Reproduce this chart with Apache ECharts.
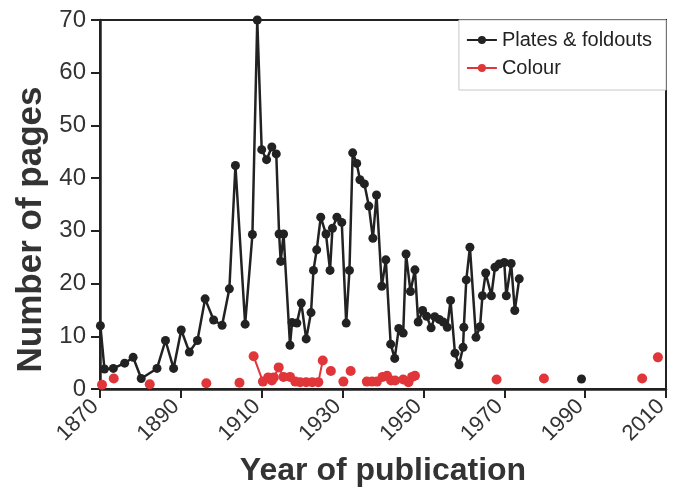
<!DOCTYPE html>
<html>
<head>
<meta charset="utf-8">
<script src="https://cdn.jsdelivr.net/npm/echarts@6/dist/echarts.min.js"></script>
<style>
  html, body { margin: 0; padding: 0; background: #fff; }
  #chart { width: 673px; height: 497px; }
</style>
</head>
<body>
<div id="chart"></div>
<script>
// Values. null = gap in the line.
const plateYears = [
  1870.1, 1871.1, 1873.3, 1876.1, 1878.2, 1880.2, 1884.1, 1886.2, 1888.2,
  1890.1, 1892.1, 1894.1, 1896.0, 1898.1, 1900.2, 1902.0, 1903.5, 1905.9, 1907.7, 1908.9,
  1910.0, 1911.2, 1912.5, 1913.6, 1914.3, 1914.7, 1915.4, 1917.0, 1917.5, 1918.7, 1919.8,
  1921.0, 1922.2, 1922.8, 1923.6, 1924.6, 1925.9, 1926.9, 1927.5, 1928.6, 1929.8,
  1930.9, 1931.7, 1932.5, 1933.5, 1934.3, 1935.4, 1936.5, 1937.5, 1938.4, 1939.7,
  1940.7, 1941.9, 1942.9, 1943.9, 1945.0, 1945.7, 1946.8, 1947.9, 1948.7, 1949.8,
  1950.8, 1951.9, 1952.8, 1953.9, 1954.9, 1955.9, 1956.7, 1957.8, 1958.8, 1959.8,
  1960.0, 1960.6, 1961.5, 1963.0, 1964.0, 1964.6, 1965.4, 1966.8, 1967.7, 1968.7,
  1970.0, 1970.5, 1971.7, 1972.6, 1973.7,
  1981.0, 1989.1
];
const plateValues = [
  12, 3.8, 3.9, 4.9, 6, 2, 3.9, 9.2, 3.9,
  11.2, 7, 9.2, 17.1, 13.1, 12.1, 19, 42.4, 12.3, 29.3, 70,
  45.4, 43.5, 45.9, 44.6, 29.4, 24.2, 29.4, 8.3, 12.6, 12.5, 16.3,
  9.5, 14.5, 22.5, 26.4, 32.6, 29.4, 22.5, 30.5, 32.6, 31.6,
  12.5, 22.5, 44.8, 42.8, 39.7, 38.9, 34.7, 28.6, 36.8, 19.5,
  24.5, 8.5, 5.8, 11.5, 10.6, 25.6, 18.5, 22.6, 12.7, 14.9,
  13.8, 11.6, 13.7, 13.2, 12.7, 11.7, 16.8, 6.8, 4.6, 7.9,
  11.7, 20.7, 26.9, 9.8, 11.8, 17.7, 22.0, 17.7, 23.1, 23.7,
  24.0, 17.7, 23.8, 14.9, 20.9,
  null, 1.9
];

const colourYears = [
  1870.5, 1872, 1873.4, 1878, 1882.3, 1890, 1896.3, 1900, 1904.5, 1906,
  1908.0, 1910.3, 1911.6, 1912.5, 1913.0, 1914.2, 1915.4, 1917.0, 1918.3, 1919.5,
  1921.0, 1922.5, 1924.0, 1925.1, 1926, 1927.1, 1929, 1930.2, 1931, 1932.0, 1934,
  1936.0, 1937.3, 1938.5, 1939.9, 1941.0, 1942.0, 1943.0, 1944,
  1945.0, 1946.3, 1947.2, 1947.9, 1958, 1968.1, 1975, 1979.8, 1990, 2004.1, 2006, 2008.0
];
const colourValues = [
  0.8, null, 2.0, null, 0.9, null, 1.1, null, 1.2, null,
  6.2, 1.4, 2.2, 1.6, 2.2, 4.1, 2.3, 2.3, 1.4, 1.3,
  1.3, 1.3, 1.3, 5.4, null, 3.4, null, 1.4, null, 3.4, null,
  1.4, 1.4, 1.4, 2.3, 2.5, 1.6, 1.6, null,
  1.8, 1.3, 2.3, 2.5, null, 1.8, null, 2.0, null, 2.0, null, 6.0
];

const xTicks = { min: 1870, max: 2010, step: 20 };
const yTicks = { min: 0, max: 70, step: 10 };

const FONT = '"Liberation Sans", Arial, sans-serif';
const INK = '#222';
const RED = '#e0363a';

function pairs(xs, ys) {
  return xs.map((x, i) => [x, ys[i] == null ? '-' : ys[i]]);
}

const axisCommon = {
  axisLine: { lineStyle: { color: INK, width: 2.5 } },
  axisTick: { inside: false, length: 9, lineStyle: { color: INK, width: 2 } },
  splitLine: { show: false },
  nameLocation: 'middle',
  nameTextStyle: { fontFamily: FONT, fontWeight: 'bold', color: '#333' },
};

const chart = echarts.init(document.getElementById('chart'));
chart.setOption({
  animation: false,
  backgroundColor: '#fff',
  grid: {
    left: 100, right: 7, top: 20, bottom: 108,
    show: true, borderColor: INK, borderWidth: 2, backgroundColor: 'transparent',
  },
  legend: {
    right: 7, top: 20,
    orient: 'vertical',
    backgroundColor: '#fff',
    borderColor: '#c8c8c8', borderWidth: 1,
    padding: [10, 14, 12, 7],
    itemGap: 8,
    itemWidth: 30, itemHeight: 10,
    textStyle: { fontFamily: FONT, fontSize: 20, color: '#222' },
    data: ['Plates & foldouts', 'Colour'],
  },
  xAxis: {
    ...axisCommon,
    type: 'value',
    min: xTicks.min, max: xTicks.max, interval: xTicks.step,
    axisLabel: {
      rotate: 45, fontFamily: FONT, fontSize: 22, color: '#333', margin: 9,
      padding: [0, 7, 0, 0],
      formatter: (v) => String(v),
    },
    name: 'Year of publication',
    nameGap: 66,
    nameTextStyle: { ...axisCommon.nameTextStyle, fontSize: 32 },
  },
  yAxis: {
    ...axisCommon,
    type: 'value',
    min: yTicks.min, max: yTicks.max, interval: yTicks.step,
    axisLabel: { fontFamily: FONT, fontSize: 24, color: '#333', margin: 14 },
    name: 'Number of pages',
    nameGap: 48,
    nameTextStyle: { ...axisCommon.nameTextStyle, fontSize: 35, padding: [0, 50, 0, 0] },
  },
  series: [
    {
      name: 'Plates & foldouts',
      type: 'line',
      data: pairs(plateYears, plateValues),
      connectNulls: false,
      symbol: 'circle', symbolSize: 9,
      lineStyle: { color: INK, width: 2.5 },
      itemStyle: { color: INK },
    },
    {
      name: 'Colour',
      type: 'line',
      data: pairs(colourYears, colourValues),
      connectNulls: false,
      symbol: 'circle', symbolSize: 10,
      lineStyle: { color: RED, width: 2 },
      itemStyle: { color: RED },
    },
  ],
});
</script>
</body>
</html>
